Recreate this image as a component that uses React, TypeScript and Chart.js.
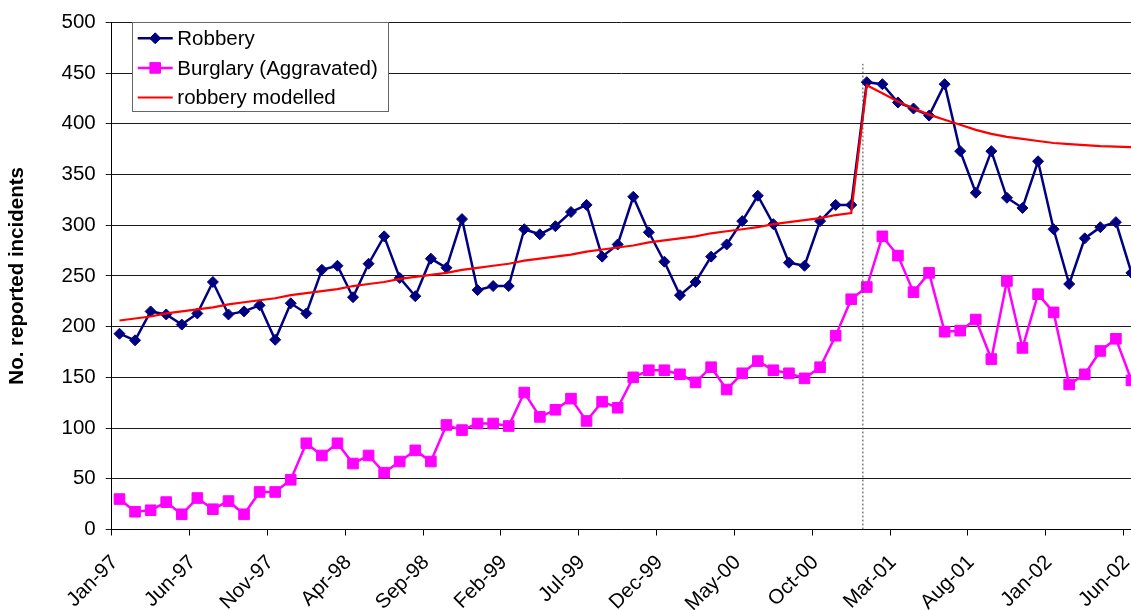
import React, { useEffect, useRef } from 'react';
import { Chart, registerables } from 'chart.js';

Chart.register(...registerables);

// ---- Data ----
const monthNames = ['Jan', 'Feb', 'Mar', 'Apr', 'May', 'Jun', 'Jul', 'Aug', 'Sep', 'Oct', 'Nov', 'Dec'];
const categories: string[] = [];
for (let yr = 1997; yr <= 2002; yr++) {
  for (let m = 0; m < 12; m++) {
    if (yr === 2002 && m > 5) break;
    categories.push(`${monthNames[m]}-${String(yr % 100).padStart(2, '0')}`);
  }
}

const xTickLabels = ['Jan-97', 'Jun-97', 'Nov-97', 'Apr-98', 'Sep-98', 'Feb-99', 'Jul-99', 'Dec-99', 'May-00', 'Oct-00', 'Mar-01', 'Aug-01', 'Jan-02', 'Jun-02'];

const robbery = [
  193, 186.5, 215, 212, 202, 213, 244, 212, 215, 221, 187, 223,
  213, 256, 260, 229, 262, 289, 248, 230, 267, 258, 306, 236,
  240, 240, 296, 291, 299, 313, 320, 269, 281, 328, 293, 264,
  231, 244, 269, 281, 304, 329, 301, 263, 260, 304, 320, 320,
  441, 439, 421, 415, 408, 439, 373, 332, 373, 327, 317, 363,
  296, 242, 287, 298, 303, 253,
];

const burglary = [
  30, 17.5, 19, 27, 15, 31, 20, 28, 15, 37, 37, 49,
  85, 73, 85, 65, 73, 56, 67, 78, 67, 103, 98, 104.5,
  104.5, 102, 135, 111, 118, 129, 107, 126, 120, 150, 157, 157,
  153, 145, 160, 138, 154, 166, 157, 154, 149, 160, 191, 227,
  239, 289, 270, 234, 253, 195, 196, 207, 168, 245, 179, 232,
  214, 143, 153, 176, 188, 147,
];

const robberyModelled = [
  206, 208, 210, 213, 215, 217, 219, 222, 224, 226, 228, 231,
  233, 235, 237, 240, 242, 244, 247, 249, 251, 253, 256, 258,
  260, 262, 265, 267, 269, 271, 274, 276, 278, 280, 283, 285,
  287, 289, 292, 294, 296, 298, 301, 303, 305, 307, 310, 312,
  438, 430, 422, 415, 409, 404, 399, 394, 390, 387, 385, 383,
  381, 380, 379, 378, 377.5, 377,
];

// dotted marker line (month-index position, value range)
const interventionX = [48.25, 48.25];
const interventionY = [0, 459];

const FONT = "'Liberation Sans', Arial, sans-serif";

const toPoints = (vals: number[]) => vals.map((v, i) => ({ x: i + 0.5, y: v }));

// Let the plot area run to the right edge of the canvas (the reference is cropped there)
const stretchPlugin = {
  id: 'stretchRight',
  afterLayout(chart: any) {
    const x = chart.scales.x;
    const right = chart.width;
    x.right = right;
    x.width = right - x.left;
    x.configure();
    chart.chartArea.right = right;
    chart.chartArea.width = right - chart.chartArea.left;
  },
};

const legendPlugin = {
  id: 'boxLegend',
  afterDatasetsDraw(chart: any) {
    const ctx = chart.ctx as CanvasRenderingContext2D;
    const items = chart.data.datasets
      .filter((d: any) => d.legendIndex !== undefined)
      .sort((a: any, b: any) => a.legendIndex - b.legendIndex);
    ctx.save();
    const bx = 132.5, by = 22.5, bw = 256, bh = 89;
    ctx.fillStyle = '#ffffff';
    ctx.fillRect(bx, by, bw, bh);
    ctx.strokeStyle = '#666666';
    ctx.lineWidth = 1;
    ctx.strokeRect(bx, by, bw, bh);
    items.forEach((d: any, i: number) => {
      const y = 38.3 + i * 29.6;
      const x0 = 137.7, x1 = 172.7, xm = (x0 + x1) / 2;
      ctx.strokeStyle = d.borderColor;
      ctx.lineWidth = d.borderWidth;
      ctx.beginPath();
      ctx.moveTo(x0, y);
      ctx.lineTo(x1, y);
      ctx.stroke();
      if (d.pointRadius > 0) {
        const r = d.pointRadius;
        ctx.fillStyle = d.pointBackgroundColor;
        ctx.strokeStyle = d.borderColor;
        ctx.lineWidth = 1;
        ctx.beginPath();
        if (d.pointStyle === 'rectRot') {
          ctx.moveTo(xm - r, y);
          ctx.lineTo(xm, y - r);
          ctx.lineTo(xm + r, y);
          ctx.lineTo(xm, y + r);
          ctx.closePath();
        } else {
          const s = Math.SQRT1_2 * r;
          ctx.rect(xm - s, y - s, 2 * s, 2 * s);
        }
        ctx.fill();
        ctx.stroke();
      }
      ctx.fillStyle = '#000000';
      ctx.font = `20.5px ${FONT}`;
      ctx.textBaseline = 'middle';
      ctx.textAlign = 'left';
      ctx.fillText(d.label, 177.3, y + 1);
    });
    ctx.restore();
  },
};

export default function App() {
  const canvasRef = useRef<HTMLCanvasElement | null>(null);

  useEffect(() => {
    if (!canvasRef.current) return;
    const tickValues = xTickLabels.map((l) => categories.indexOf(l));
    const chart = new Chart(canvasRef.current, {
      type: 'line',
      data: {
        datasets: [
          {
            label: 'robbery modelled',
            data: toPoints(robberyModelled),
            borderColor: '#ff0000',
            backgroundColor: '#ff0000',
            borderWidth: 2.2,
            pointRadius: 0,
            tension: 0,
            order: 0,
            legendIndex: 2,
          } as any,
          {
            label: 'Burglary (Aggravated)',
            data: toPoints(burglary),
            borderColor: '#ff00ff',
            backgroundColor: '#ff00ff',
            pointBackgroundColor: '#ff00ff',
            borderWidth: 2.5,
            pointStyle: 'rect',
            pointRadius: 7.5,
            pointBorderWidth: 1,
            tension: 0,
            order: 1,
            legendIndex: 1,
          } as any,
          {
            label: 'Robbery',
            data: toPoints(robbery),
            borderColor: '#000080',
            backgroundColor: '#000080',
            pointBackgroundColor: '#000080',
            borderWidth: 2.5,
            pointStyle: 'rectRot',
            pointRadius: 5.5,
            pointBorderWidth: 1,
            tension: 0,
            order: 2,
            legendIndex: 0,
          } as any,
          {
            label: 'intervention',
            data: interventionX.map((x, i) => ({ x, y: interventionY[i] })),
            borderColor: '#444444',
            borderWidth: 1,
            borderDash: [2, 2],
            pointRadius: 0,
            order: -1,
          } as any,
        ],
      },
      options: {
        responsive: false,
        animation: false,
        layout: { padding: { top: 21.7, left: 0, right: 0, bottom: 0 } },
        plugins: {
          legend: { display: false },
          tooltip: { enabled: false },
        },
        scales: {
          x: {
            type: 'linear',
            min: 0,
            max: 65.47,
            afterBuildTicks: (s: any) => {
              s.ticks = tickValues.map((v) => ({ value: v }));
            },
            afterFit: (s: any) => {
              s.height = 80.5;
            },
            ticks: {
              autoSkip: false,
              minRotation: 45,
              maxRotation: 45,
              color: '#000',
              padding: 15,
              labelOffset: 3,
              font: { family: FONT, size: 20.5 },
              callback: (v: any) => categories[Math.round(Number(v))],
            },
            grid: { drawOnChartArea: false, drawTicks: true, tickLength: 6, color: '#000' },
            border: { display: true, color: '#000', width: 1 },
          },
          y: {
            min: 0,
            max: 500,
            afterFit: (s: any) => {
              s.width = 111.7;
            },
            ticks: {
              stepSize: 50,
              color: '#000',
              padding: 10,
              font: { family: FONT, size: 20.5 },
            },
            grid: { color: '#1a1a1a', lineWidth: 1, tickLength: 6 },
            border: { display: true, color: '#000', width: 1 },
            title: {
              display: true,
              text: 'No. reported incidents',
              color: '#000',
              font: { family: FONT, size: 20.5, weight: 'bold' },
              padding: { top: 5, bottom: 0 },
            },
          },
        },
      },
      plugins: [stretchPlugin, legendPlugin],
    });
    return () => chart.destroy();
  }, []);

  return (
    <div style={{ position: 'fixed', left: 0, top: 0, width: 1131, height: 610, background: '#fff' }}>
      <canvas ref={canvasRef} width={1131} height={610} style={{ display: 'block' }} />
    </div>
  );
}
